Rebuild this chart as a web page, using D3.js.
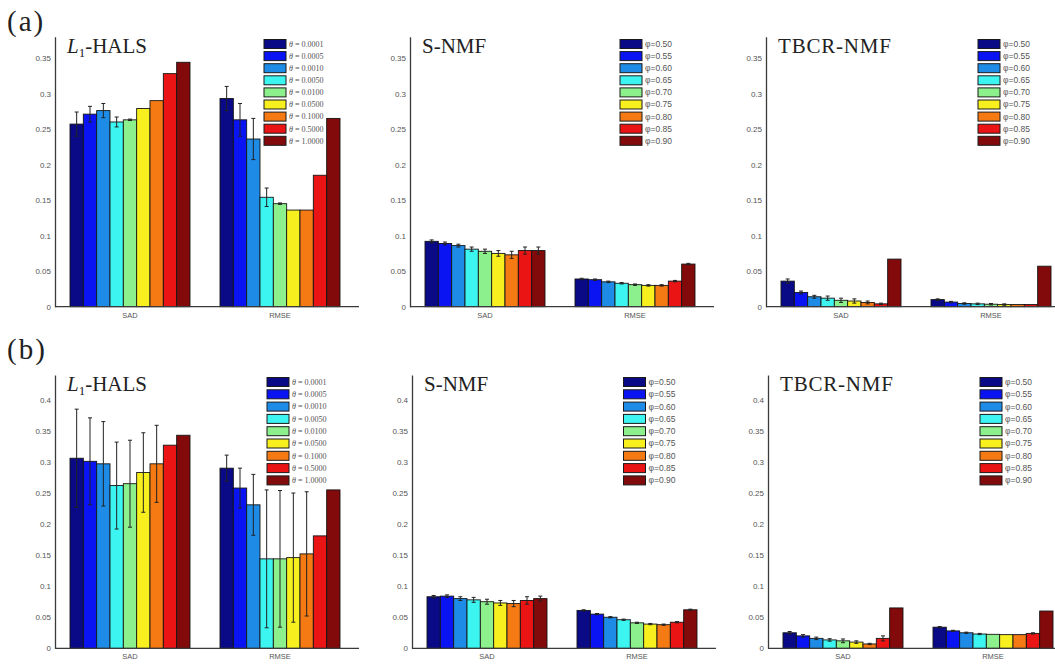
<!DOCTYPE html>
<html>
<head>
<meta charset="utf-8">
<script src="https://cdn.jsdelivr.net/npm/d3@7"></script>
<style>
  body { margin: 0; background: #fff; }
  svg { display: block; font-family: Arial, "Liberation Sans", sans-serif; }
  .axis .domain { stroke: #3a3a3a; stroke-width: 1.3; }
  .axis text { fill: #555; }
</style>
</head>
<body>
<svg id="chart" width="1055" height="664"></svg>
<script>
// categories and legend labels
var groups = ["SAD", "RMSE"];
var thetaLabels = ["0.0001", "0.0005", "0.0010", "0.0050", "0.0100", "0.0500", "0.1000", "0.5000", "1.0000"];
var phiLabels = ["0.50", "0.55", "0.60", "0.65", "0.70", "0.75", "0.80", "0.85", "0.90"];
var ticksA = [0, 0.05, 0.1, 0.15, 0.2, 0.25, 0.3, 0.35];
var ticksB = [0, 0.05, 0.1, 0.15, 0.2, 0.25, 0.3, 0.35, 0.4];

// (a) L1-HALS
var halsA_sad      = [0.257, 0.271, 0.276, 0.260, 0.263, 0.279, 0.290, 0.328, 0.344];
var halsA_sadErr   = [0.017, 0.011, 0.010, 0.007, 0.001, 0, 0, 0, 0];
var halsA_rmse     = [0.293, 0.263, 0.236, 0.154, 0.145, 0.136, 0.136, 0.185, 0.265];
var halsA_rmseErr  = [0.017, 0.023, 0.029, 0.013, 0.001, 0, 0, 0, 0];
// (a) S-NMF
var snmfA_sad      = [0.092, 0.089, 0.086, 0.081, 0.078, 0.075, 0.073, 0.079, 0.079];
var snmfA_sadErr   = [0.002, 0.002, 0.002, 0.003, 0.003, 0.004, 0.005, 0.005, 0.005];
var snmfA_rmse     = [0.039, 0.038, 0.035, 0.033, 0.031, 0.030, 0.030, 0.036, 0.060];
var snmfA_rmseErr  = [0.001, 0.001, 0.001, 0.001, 0.001, 0.001, 0.001, 0.001, 0.001];
// (a) TBCR-NMF
var tbcrA_sad      = [0.036, 0.020, 0.014, 0.012, 0.009, 0.008, 0.006, 0.004, 0.067];
var tbcrA_sadErr   = [0.003, 0.002, 0.002, 0.003, 0.003, 0.003, 0.002, 0.001, 0];
var tbcrA_rmse     = [0.010, 0.0065, 0.0045, 0.004, 0.0035, 0.003, 0.003, 0.003, 0.057];
var tbcrA_rmseErr  = [0.001, 0.001, 0.001, 0.001, 0.001, 0.001, 0, 0, 0];

// (b) L1-HALS
var halsB_sad      = [0.306, 0.301, 0.297, 0.262, 0.265, 0.283, 0.297, 0.327, 0.343];
var halsB_sadErr   = [0.079, 0.070, 0.068, 0.070, 0.070, 0.064, 0.062, 0, 0];
var halsB_rmse     = [0.290, 0.258, 0.231, 0.144, 0.144, 0.146, 0.152, 0.181, 0.255];
var halsB_rmseErr  = [0.021, 0.032, 0.049, 0.111, 0.110, 0.104, 0.100, 0, 0];
// (b) S-NMF
var snmfB_sad      = [0.083, 0.084, 0.080, 0.078, 0.075, 0.073, 0.072, 0.077, 0.080];
var snmfB_sadErr   = [0.002, 0.002, 0.003, 0.004, 0.004, 0.004, 0.005, 0.006, 0.004];
var snmfB_rmse     = [0.061, 0.055, 0.050, 0.046, 0.041, 0.039, 0.038, 0.042, 0.062];
var snmfB_rmseErr  = [0.001, 0.001, 0.001, 0.001, 0.001, 0.001, 0.001, 0.001, 0.001];
// (b) TBCR-NMF
var tbcrB_sad      = [0.025, 0.020, 0.016, 0.0135, 0.012, 0.010, 0.007, 0.016, 0.065];
var tbcrB_sadErr   = [0.002, 0.002, 0.002, 0.002, 0.003, 0.002, 0.001, 0.004, 0];
var tbcrB_rmse     = [0.034, 0.028, 0.025, 0.023, 0.0225, 0.022, 0.022, 0.024, 0.060];
var tbcrB_rmseErr  = [0.001, 0.001, 0.001, 0.001, 0, 0, 0, 0.001, 0];

// jet colours, one per parameter value
var colors = ["#0a0a86", "#0a14f2", "#1e8ce6", "#3cf5f0", "#8cf08c", "#f7f01e", "#f57a14", "#eb1414", "#820a0a"];

var svg = d3.select("#chart");
svg.append("rect").attr("width", 1055).attr("height", 664).attr("fill", "#fff");

var fmt = function(d) { return String(+d.toFixed(2)); };

function drawPanel(p) {
  var x0 = d3.scaleBand().domain(groups).range([p.left, p.left + 300]).paddingInner(0.2).paddingOuter(0.1);
  var x1 = d3.scaleBand().domain(d3.range(9)).range([0, x0.bandwidth()]);
  var y = d3.scaleLinear().domain([0, p.ymax]).range([p.bottom, p.top]);
  var g = svg.append("g");

  groups.forEach(function(grp, gi) {
    var vals = p.values[gi], errs = p.errors[gi];
    g.selectAll(null).data(vals).enter().append("rect")
      .attr("x", function(d, i) { return x0(grp) + x1(i); })
      .attr("y", function(d) { return y(d); })
      .attr("width", x1.bandwidth())
      .attr("height", function(d) { return y(0) - y(d); })
      .attr("fill", function(d, i) { return colors[i]; })
      .attr("stroke", "#151515")
      .attr("stroke-width", 0.9);

    // error bars (symmetric)
    vals.forEach(function(v, i) {
      var e = errs[i];
      if (e <= 0) return;
      var cx = x0(grp) + x1(i) + x1.bandwidth() / 2;
      g.append("line").attr("x1", cx).attr("x2", cx)
        .attr("y1", y(v - e)).attr("y2", y(v + e))
        .attr("stroke", "#222").attr("stroke-width", 1);
      [v - e, v + e].forEach(function(t) {
        g.append("line").attr("x1", cx - 2).attr("x2", cx + 2)
          .attr("y1", y(t)).attr("y2", y(t))
          .attr("stroke", "#222").attr("stroke-width", 1);
      });
    });
  });

  // axes
  var ya = g.append("g").attr("class", "axis")
    .attr("transform", "translate(" + p.left + ",0)")
    .call(d3.axisLeft(y).tickValues(p.ticks).tickSize(0).tickPadding(4).tickFormat(fmt));
  ya.selectAll("text").style("font-size", "8px");

  var xa = g.append("g").attr("class", "axis")
    .attr("transform", "translate(0," + p.bottom + ")")
    .call(d3.axisBottom(x0).tickSize(0).tickPadding(p.xpad));
  xa.selectAll("text").style("font-size", "7.5px");
  xa.select(".domain").attr("d", "M" + p.left + ",0H" + (p.left + 304));

  // title
  var t = g.append("text")
    .attr("x", p.left + 12).attr("y", p.top + 16)
    .attr("font-family", "'Liberation Serif', 'Times New Roman', serif")
    .attr("font-size", "21px").attr("fill", "#222");
  if (p.title == "L1-HALS") {
    t.append("tspan").attr("font-style", "italic").text("L");
    t.append("tspan").attr("font-size", "13px").attr("dy", 4).text("1");
    t.append("tspan").attr("dy", -4).text("-HALS");
  } else {
    t.attr("letter-spacing", p.title == "TBCR-NMF" ? "0.8px" : "0px").text(p.title);
  }

  // legend
  var pitch = p.pitch;
  p.labels.forEach(function(lab, i) {
    var ly = p.legY + i * pitch;
    g.append("rect")
      .attr("x", p.left + p.legX).attr("y", ly)
      .attr("width", 22).attr("height", 9)
      .attr("fill", colors[i]).attr("stroke", "#1a1a1a").attr("stroke-width", 1);
    var lt = g.append("text")
      .attr("x", p.left + p.legX + 25).attr("y", ly + 4.5).attr("dy", "0.35em")
      .attr("fill", "#555");
    if (p.symbol == "theta") {
      lt.attr("font-family", "'Liberation Serif', 'Times New Roman', serif").attr("font-size", "8px");
      lt.append("tspan").attr("font-style", "italic").text("\u03B8");
      lt.append("tspan").text(" = " + lab);
    } else {
      lt.attr("font-size", "8.5px").text("\u03C6=" + lab);
    }
  });
}

var rowA = { top: 36.7, bottom: 306.7, ymax: 0.38, ticks: ticksA, xpad: 6, legY: 39.5, pitch: 12.1 };
var rowB = { top: 375, bottom: 648.3, ymax: 0.44, ticks: ticksB, xpad: 5, legY: 377.5, pitch: 12.3 };

var panels = [
  [rowA, 55,  "L1-HALS",  "theta", [halsA_sad, halsA_rmse], [halsA_sadErr, halsA_rmseErr], 209],
  [rowA, 410, "S-NMF",    "phi",   [snmfA_sad, snmfA_rmse], [snmfA_sadErr, snmfA_rmseErr], 210],
  [rowA, 766, "TBCR-NMF", "phi",   [tbcrA_sad, tbcrA_rmse], [tbcrA_sadErr, tbcrA_rmseErr], 212],
  [rowB, 55,  "L1-HALS",  "theta", [halsB_sad, halsB_rmse], [halsB_sadErr, halsB_rmseErr], 212],
  [rowB, 412, "S-NMF",    "phi",   [snmfB_sad, snmfB_rmse], [snmfB_sadErr, snmfB_rmseErr], 211.5],
  [rowB, 768, "TBCR-NMF", "phi",   [tbcrB_sad, tbcrB_rmse], [tbcrB_sadErr, tbcrB_rmseErr], 212]
];

panels.forEach(function(a) {
  var r = a[0];
  drawPanel({
    top: r.top, bottom: r.bottom, ymax: r.ymax, ticks: r.ticks, xpad: r.xpad,
    legY: r.legY, pitch: r.pitch,
    left: a[1], title: a[2], symbol: a[3],
    labels: a[3] == "theta" ? thetaLabels : phiLabels,
    values: a[4], errors: a[5], legX: a[6]
  });
});

// panel letters
svg.append("text").attr("x", 7).attr("y", 31)
  .attr("font-family", "'Liberation Serif', 'Times New Roman', serif")
  .attr("font-size", "29px").attr("letter-spacing", "2px").attr("fill", "#222").text("(a)");
svg.append("text").attr("x", 7).attr("y", 359)
  .attr("font-family", "'Liberation Serif', 'Times New Roman', serif")
  .attr("font-size", "29px").attr("letter-spacing", "2px").attr("fill", "#222").text("(b)");
</script>
</body>
</html>
